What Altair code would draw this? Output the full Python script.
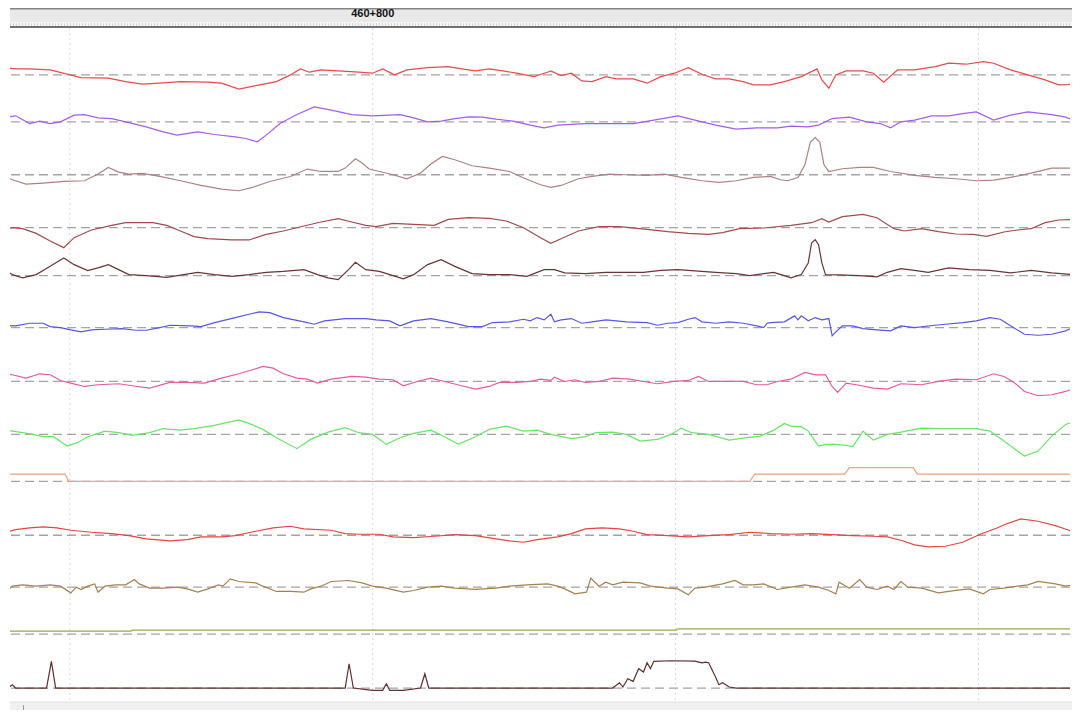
import altair as alt
import pandas as pd

# ---- chainage reference -------------------------------------------------
START_CHAINAGE = 460677.6          # chainage (m) at the left edge of the recording
POSTS = [460700, 460800, 460900, 461000]
LABELLED_POSTS = [460800]

# ---- signal channels: (distance from start in m, value in mm) -----------
ch01 = [(0,7.3),(4.5,6),(9.1,6),(15.9,5),(21.5,0.7),(26.1,-2.7),(35.1,-3.3),(40.8,-6.7),(46.4,-9.3),
        (52.1,-8.3),(58.9,-6.7),(68.0,-7.3),(72.5,-8.3),(78.2,-14.3),(83.8,-10.7),(90.6,-6.7),(95.2,0),
        (98.5,6),(101.5,2.7),(105.3,5),(111.0,4),(117.8,2.7),(122.3,1.7),(125.7,6),(129.6,0),(133.7,5),
        (140.5,7.3),(147.3,8.3),(151.8,6),(156.3,4),(160.9,6),(165.4,4),(169.9,1.7),(175.6,-1.7),
        (180.1,2.7),(181.2,4),(184.6,-0.7),(188.0,1.7),(191.4,-6),(194.8,-6.7),(199.4,-1.7),(202.8,-4),
        (208.4,-4),(213.0,-8.3),(217.5,-1.7),(222.0,1.7),(226.6,7.3),(231.1,0.7),(235.6,-4),(240.1,-4),
        (244.7,-6.7),(248.1,-10),(253.7,-10),(258.3,-6.7),(263.9,-1.7),(269.1,6),(270.7,-5),(273.0,-13.3),
        (275.3,0),(278.7,4),(284.3,4),(287.7,1.7),(291.1,-7.3),(295.7,5),(301.3,5),(308.1,8.3),
        (312.6,11.7),(318.3,10.7),(324.0,13.3),(327.4,11.7),(333.0,5),(338.7,0),(344.4,-5),(348.9,-10),
        (355.2,-9.3)]

ch02 = [(0,4),(4.5,6),(9.1,-1.7),(12.5,0.7),(15.9,-1.7),(19.3,0),(23.8,6.7),(27.2,7.3),(31.7,4),
        (36.2,3.3),(40.8,0),(47.6,-5),(53.2,-10),(57.8,-13.3),(64.6,-10),(70.2,-12.7),(77.0,-15),
        (80.4,-16.7),(84.3,-20),(87.2,-13.3),(91.8,-1.7),(97.4,7.3),(103.1,15),(108.7,11.7),(115.5,7.3),
        (122.3,6),(131.4,7.3),(135.9,4),(140.5,0),(145.0,0.7),(149.5,3.3),(154.1,5),(158.6,4.7),
        (163.1,2.7),(168.8,0.7),(174.4,-3.3),(179.0,-6),(183.5,-3.3),(192.6,-1.7),(199.4,-1.7),
        (208.4,-1.7),(215.2,1.7),(223.2,6),(228.8,1.7),(235.6,-3.3),(242.4,-7.3),(249.2,-6),(256.0,-6),
        (260.5,-4.3),(266.2,-5),(269.6,-3.3),(274.1,3.3),(279.8,4.7),(285.5,0),(290.0,-1.7),(293.4,-6),
        (296.8,0),(301.3,1.7),(307.0,6),(312.6,6),(317.2,8.3),(321.7,10),(327.4,1.7),(333.0,6.7),
        (338.7,10),(346.6,7.3),(351.2,4.7),(355.2,0)]

ch03 = [(0,0),(3.4,-5),(7.9,-9.3),(13.6,-8.3),(20.4,-6.7),(27.2,-6),(31.7,0.7),(35.1,7.3),(38.5,2.7),
        (41.9,0.7),(46.4,1.3),(52.1,-1.7),(58.9,-6),(65.7,-10.7),(72.5,-14.3),(78.2,-16),(82.7,-12.7),
        (88.4,-6.7),(95.2,-1.7),(100.8,5.7),(105.3,3.3),(111.0,3.3),(113.3,6.7),(116.7,16),(118.9,11.7),
        (121.2,5.7),(124.6,3.3),(129.1,0),(133.7,-4),(138.2,1.7),(141.6,10.7),(145.4,18.3),(149.5,15),
        (155.2,9),(160.9,6.7),(167.6,3.3),(172.2,-3.3),(177.8,-10),(181.2,-12.7),(184.6,-10.7),
        (190.3,-4),(194.8,-1.7),(200.5,0.7),(206.2,0),(213.0,-0.7),(218.6,0.7),(224.3,-2.7),(231.1,-6),
        (236.7,-7.7),(242.4,-6),(248.1,-2.7),(253.7,-1.7),(257.1,-5),(259.4,-6),(262.8,-2.7),(265.1,10),
        (266.9,32.7),(268.5,37.3),(270.0,32.7),(271.4,10),(273.0,3.3),(277.5,6),(283.2,7.3),(287.7,7.3),
        (293.4,3.3),(301.3,-0.7),(308.1,-2.7),(314.9,-4),(321.7,-6),(327.4,-5.3),(333.0,-2.7),
        (339.8,1.7),(346.6,6.7),(355.2,6.7)]

ch04 = [(0,-2.3),(3.4,0),(6.8,-1),(11.3,-5.7),(15.9,-13.3),(20.4,-20),(23.8,-10),(29.5,-2.3),(36.2,2.3),
        (40.8,5),(49.8,5),(54.4,2.3),(58.9,-3.3),(63.4,-9),(68.0,-11),(75.9,-12.3),(81.6,-12.3),
        (87.2,-6.7),(92.9,-3.3),(99.7,1.7),(105.3,5.7),(111.0,9),(115.5,5.7),(120.1,2.3),(123.5,1),
        (129.1,4.3),(135.9,3.3),(142.7,2.3),(147.3,8.3),(154.1,10),(160.9,9.3),(166.5,6.7),(172.2,0),
        (177.8,-10),(181.2,-15.7),(184.6,-11),(190.3,-3.3),(197.1,1),(203.9,1),(213.0,-1.7),(219.8,-4),
        (226.6,-5.7),(233.3,-6.7),(237.9,-5),(243.5,-1),(251.5,-0.3),(260.5,2.3),(267.3,5),(270.7,9),
        (273.0,5.7),(277.5,11),(284.3,13.3),(288.9,10),(294.5,-1),(297.9,-3.3),(303.6,-1),(309.2,-4),
        (314.9,-6.3),(320.6,-6.7),(325.1,-8.7),(330.8,-4.3),(335.3,-2.3),(339.8,-1),(344.4,5),
        (348.9,7.7),(355.2,8.3)]

ch05 = [(0,7.7),(3.4,1),(6.8,-2.3),(11.3,1),(15.9,9.3),(20.4,17.7),(23.8,11),(28.3,5),(31.7,7.7),
        (35.1,11),(38.5,6),(41.9,1),(47.6,0),(54.4,-1.7),(60.0,1),(64.6,3.3),(70.2,1),(75.9,-0.7),
        (81.6,1),(87.2,3.3),(92.9,4.3),(99.7,6),(104.2,1),(107.6,-2.3),(111.0,-4),(114.4,6),(116.7,13.3),
        (120.1,6),(124.6,4.3),(129.1,0),(132.5,-3.3),(135.9,1),(140.5,11),(145.0,16),(149.5,9.3),
        (155.2,2),(160.9,1),(167.6,1),(173.3,-0.7),(179.0,6),(182.4,6),(185.8,2.7),(192.6,2),(199.4,3.3),
        (206.2,3.3),(211.8,3.3),(217.5,5.3),(223.2,6),(228.8,4.7),(235.6,3.3),(242.4,2),(246.9,0),
        (251.5,2),(254.8,3.3),(258.3,0),(260.5,-2.3),(263.9,1),(266.2,12.7),(267.3,32.7),(268.5,36),
        (269.6,31),(270.7,12.7),(271.9,1),(276.4,0.7),(283.2,0),(288.9,-1.3),(292.3,3.3),(296.8,7),
        (301.3,5.3),(305.8,3.3),(312.6,7.7),(319.4,6),(326.2,5.3),(333.0,2.7),(339.8,5.3),(346.6,2.7),
        (355.2,0.7)]

ch06 = [(0,2.3),(4.5,1.7),(9.1,4.3),(13.6,4.3),(15.9,1),(19.3,0),(22.7,-2.3),(26.1,-4.3),(29.5,-2.3),
        (34.0,-1.7),(39.6,-1),(44.2,-2.7),(47.6,-2.7),(52.1,0),(55.5,2.3),(62.3,1.7),(65.7,1),(70.2,5),
        (77.0,10),(81.6,13.3),(85.0,15.7),(88.4,15),(92.9,10),(99.7,5.7),(103.1,3.3),(106.5,6.7),
        (113.3,9),(120.1,9),(123.5,7.7),(128.0,6.7),(131.4,1.7),(135.9,6.7),(141.6,9),(147.3,5.7),
        (154.1,1),(158.6,1),(162.0,5),(167.6,5.7),(172.2,8.3),(174.4,6.7),(176.7,10),(179.0,7.7),
        (181.2,13.3),(182.4,5.7),(184.6,7.7),(188.0,9),(191.4,4.3),(194.8,5.7),(199.4,7.7),(206.2,5.7),
        (213.0,5),(216.4,2.3),(219.8,4.3),(223.2,5),(226.6,8.3),(228.8,10),(231.1,5.7),(235.6,4.3),
        (240.1,5.7),(244.7,4.3),(249.2,1.7),(251.5,0),(252.6,4.3),(253.7,5),(258.3,5.7),(261.7,11.7),
        (262.8,7.7),(263.9,11.7),(266.2,6.7),(268.5,10),(270.7,7.7),(273.0,9),(274.1,-8.3),(275.3,-4.3),
        (277.5,1.7),(280.9,1.7),(284.3,-1),(288.9,-2.3),(293.4,-3.3),(296.8,1.7),(301.3,0),(308.1,2.3),
        (311.5,3.3),(317.2,5),(321.7,6.7),(326.2,10),(329.6,8.3),(333.0,1.7),(337.6,-6.7),(342.1,-7.7),
        (346.6,-6.7),(351.2,-3.3),(355.2,2.3)]

ch07 = [(0,7.7),(3.4,6.7),(7.9,3.3),(12.5,7.7),(15.9,6.7),(19.3,1),(22.7,-1.7),(27.2,-5),(31.7,-3.3),
        (38.5,-2.3),(43.0,-4.3),(48.7,-6.7),(55.5,-1),(61.2,-1),(66.8,-1.7),(72.5,3.3),(78.2,7.7),
        (82.7,11.7),(86.1,15),(89.5,13.3),(92.9,7.7),(97.4,3.3),(100.8,2.3),(104.2,-1.7),(108.7,2.3),
        (115.5,5),(120.1,4.3),(124.6,2.3),(129.1,1.7),(132.5,-4.3),(137.1,0),(141.6,3.3),(146.1,0),
        (151.8,-4.3),(156.3,-7.7),(160.9,-5),(164.2,-1),(169.9,-1),(174.4,0),(177.8,2.3),(181.2,1),
        (182.4,4.3),(185.8,0),(189.2,1.7),(192.6,-1),(197.1,0),(201.6,3.3),(207.3,2.3),(211.8,0),
        (216.4,-2.3),(222.0,0),(226.6,1),(230.0,5),(233.3,0),(240.1,0),(244.7,0),(249.2,-3.3),
        (252.6,-3.3),(256.0,0),(260.5,2.3),(265.1,9),(268.5,6.7),(271.9,6.7),(274.1,-5),(275.9,-11),
        (278.7,-1.7),(282.1,-3.3),(287.7,-6.7),(292.3,-7.7),(296.8,-2.3),(303.6,-3.3),(309.2,0),
        (314.9,2.3),(321.7,1.7),(327.4,7.7),(330.8,5),(334.2,-1),(337.6,-10),(342.1,-14.3),(346.6,-13.3),
        (351.2,-10),(355.2,-5.7)]

ch08 = [(0,5),(3.4,3.3),(6.8,1.7),(10.2,0),(13.6,-2.3),(17.0,-2.3),(21.5,-11.7),(24.9,-8.3),(28.3,-2.3),
        (34.0,3.3),(38.5,1.7),(43.0,-1),(48.7,1.7),(53.2,5.7),(58.9,4.3),(63.4,5.7),(70.2,9),(74.8,12.3),
        (78.2,14.3),(81.6,11),(86.1,5),(90.6,-3.3),(97.4,-14.3),(101.9,-5),(107.6,2.3),(113.3,6.7),
        (117.8,1.7),(122.3,0),(126.9,-10),(131.4,-3.3),(135.9,1),(141.6,4.3),(146.1,-2.3),(150.7,-10),
        (156.3,-2.3),(160.9,5),(166.5,8.3),(172.2,3.3),(176.7,4.3),(181.2,0),(188.0,-4.3),(192.6,-2.3),
        (196.0,1.7),(201.6,2.3),(206.2,0),(210.7,-6.7),(216.4,-5),(220.9,0),(224.3,6.3),(227.7,1.7),
        (233.3,0),(240.1,-5.7),(245.8,-3.3),(250.3,-1.7),(254.9,4.3),(258.3,11),(260.5,8.3),(263.9,7.7),
        (266.2,3.3),(269.6,-11.7),(271.9,-10),(275.3,-10),(278.7,-11),(280.9,-12.3),(284.3,3.3),
        (287.7,-5.7),(292.3,0),(296.8,2.3),(303.6,6.3),(310.4,5.7),(317.2,5.7),(321.7,5.7),(326.2,3.3),
        (330.8,-6.7),(337.6,-21.7),(342.1,-16.7),(346.6,-1.7),(351.2,10),(355.2,14.3)]

ch09 = [(0,14),(1.1,7.3),(20.8,7.3),(22.0,0),(246.9,0),(248.5,7.3),(278.2,7.3),(279.8,13.7),
        (300.9,13.7),(302.2,7.3),(353.0,7.3),(354.6,13.3),(355.2,13.3)]

ch10 = [(0,1.7),(4.5,5.7),(9.1,7.3),(13.6,8.3),(18.1,7.3),(22.7,5),(29.5,3),(36.2,1.7),(41.9,-0.3),
        (47.6,-3.7),(55.5,-5.7),(61.2,-4.3),(65.7,-1.7),(72.5,-1.7),(77.0,-0.3),(83.8,4),(89.5,7.3),
        (95.2,9),(99.7,6.3),(108.7,5),(113.3,1.7),(117.8,1),(124.6,1),(129.1,-1.7),(135.9,-2.3),
        (142.7,-1),(149.5,0.7),(156.3,-0.3),(163.1,-3.7),(167.6,-5.7),(172.2,-7),(176.7,-4.3),
        (183.5,-1.7),(188.0,1.7),(192.6,6.3),(198.2,7.3),(203.9,6.3),(208.4,4),(213.0,0.7),(219.8,-0.3),
        (226.6,-1.7),(233.3,-0.3),(240.1,0.7),(246.9,3),(253.7,1.7),(260.5,1),(267.3,1.7),(274.1,0.7),
        (280.9,-0.3),(287.7,-1),(292.3,-1.7),(296.8,-5),(301.3,-9.7),(305.8,-11.7),(311.5,-11),
        (317.2,-7),(322.8,0.7),(328.5,7.3),(331.9,11.7),(336.4,16.3),(342.1,14),(347.8,9.7),(352.3,5),
        (355.2,1.7)]

ch11 = [(0,-2.3),(1.1,-5),(3.4,1),(6.8,2.3),(11.3,1),(15.9,2.3),(19.3,1),(22.7,-5.7),(24.5,0),
        (26.1,-2.3),(28.3,1),(30.6,3.3),(31.7,-5),(34.0,1),(37.4,2.3),(40.8,2.3),(43.7,7.7),(45.3,3.3),
        (48.7,-1),(53.2,-1),(57.8,0),(61.2,-1.7),(64.6,-5),(68.0,-1.7),(71.4,2.3),(72.9,1),(75.4,8.3),
        (78.2,5.7),(83.8,4.3),(86.1,1),(90.6,-4.3),(95.2,-4.3),(99.7,-5),(101.9,-1.7),(105.3,1),
        (108.7,5.7),(114.4,6.7),(118.9,4.3),(122.3,1),(126.9,-1),(132.5,-5),(135.9,-3.3),(140.5,0),
        (145.0,1),(149.5,-1),(156.3,-2.3),(163.1,-1),(167.6,1),(173.3,2.3),(180.1,3.3),(183.5,1),
        (185.8,-1.7),(189.2,-6.7),(193.0,-5),(194.4,9),(197.1,1),(199.4,5),(201.6,2.3),(205.0,5),
        (210.7,4.3),(214.1,1),(219.8,-1),(223.2,-1.7),(226.6,-7.7),(228.8,-1),(232.2,0),(237.9,3.3),
        (242.0,6.7),(244.7,2.3),(248.1,2.3),(251.5,3.3),(256.0,-2.3),(260.5,0),(265.1,2.3),(269.6,0),
        (273.0,-3.3),(275.3,-6.7),(276.4,5),(279.8,-1),(283.2,7.7),(285.5,0),(288.9,-2.3),(292.3,1),
        (294.5,-2.3),(296.8,5.7),(299.1,0),(303.6,-1),(309.2,-5.7),(314.9,-3.3),(319.4,-1.7),
        (324.0,-6.7),(326.2,-2.3),(330.8,-1),(335.3,1),(338.7,2.3),(342.1,5.7),(347.8,3.3),(351.2,1),
        (355.2,3.3)]

ch12 = [(0,3),(42.6,3),(43.0,4),(222.5,4),(223.2,5.3),(355.2,5.3)]

ch13 = [(0,0),(2.3,0.7),(3.4,3.3),(4.5,0),(14.7,0),(16.3,26.7),(17.7,0),(113.3,0),(114.6,24.3),
        (116.0,0),(122.3,-2.3),(125.7,-2.3),(126.9,4.3),(128.0,-2.3),(132.5,-2.3),(138.2,0),
        (139.6,14.3),(140.9,0),(201.6,0),(203.9,5.3),(205.0,1),(206.6,9.3),(208.4,6.7),(210.2,19.3),
        (211.8,16),(213.0,25.3),(214.1,19.3),(215.2,26.7),(220.9,27.3),(228.8,27),(231.1,25.3),
        (232.2,26),(233.3,25.3),(235.6,11),(236.7,3.3),(237.9,5.3),(240.1,1),(242.4,0),(355.2,0)]

channels = [ch01, ch02, ch03, ch04, ch05, ch06, ch07, ch08, ch09, ch10, ch11, ch12, ch13]
names = [f"ch{i+1:02d}" for i in range(len(channels))]

# ---- layout / style --------------------------------------------------------
ROW_BASE = [75, 122, 175, 228, 276, 328, 382, 435, 482, 536, 588, 635, 689]   # baseline row of each track
COLORS = ["#e84a4a", "#a45cec", "#b08080", "#a04c4c", "#6a3434", "#5656e2", "#e25aa4",
          "#68e468", "#f4a078", "#e44444", "#a68050", "#9aa644", "#5e3030"]

rows = []
for name, data, base in zip(names, channels, ROW_BASE):
    for d, v in data:
        rows.append({"track": name, "chainage": START_CHAINAGE + d, "value": v, "row": base - v})
df = pd.DataFrame(rows)
df_base = pd.DataFrame({"track": names, "row": ROW_BASE})
df_posts = pd.DataFrame({"chainage": POSTS})
df_labels = pd.DataFrame({"chainage": LABELLED_POSTS,
                          "label": [f"{p // 1000}+{p % 1000:03d}" for p in LABELLED_POSTS]})

W, H = 1064, 702
xscale = alt.Scale(domain=[START_CHAINAGE + 8 / 3.04, START_CHAINAGE + 1072 / 3.04], nice=False, zero=False)
yscale = alt.Scale(domain=[8, 710], reverse=True, nice=False, zero=False)

one = pd.DataFrame({"a": [0]})
header = alt.Chart(one).mark_rect(color="#e9e9e9").encode(
    x=alt.value(0), x2=alt.value(W), y=alt.value(0), y2=alt.value(14))
header_top = alt.Chart(one).mark_rule(color="#858585", strokeWidth=1.5).encode(
    x=alt.value(0), x2=alt.value(W), y=alt.value(0.75))
ruler_bg = alt.Chart(one).mark_rect(color="#f6f6f6").encode(
    x=alt.value(0), x2=alt.value(W), y=alt.value(14), y2=alt.value(18))
ruler = alt.Chart(one).mark_rule(color="#cfcfcf", strokeWidth=2.5, strokeDash=[1, 2]).encode(
    x=alt.value(0), x2=alt.value(W), y=alt.value(16.5))
ruler_line = alt.Chart(one).mark_rule(color="#707070", strokeWidth=2).encode(
    x=alt.value(0), x2=alt.value(W), y=alt.value(19))
footer = alt.Chart(one).mark_rect(color="#f0f0f0").encode(
    x=alt.value(0), x2=alt.value(W), y=alt.value(694), y2=alt.value(H))
footer_line = alt.Chart(one).mark_rule(color="#e2e2e2", strokeWidth=1).encode(
    x=alt.value(0), x2=alt.value(W), y=alt.value(694))
footer_tab = alt.Chart(one).mark_rule(color="#9a9a9a", strokeWidth=1).encode(
    x=alt.value(13.5), y=alt.value(697), y2=alt.value(H))

grid = alt.Chart(df_posts).mark_rule(color="#d8d8d8", strokeWidth=1, strokeDash=[2, 3]).encode(
    x=alt.X("chainage:Q", scale=xscale, axis=None), y=alt.value(20), y2=alt.value(693))

baselines = alt.Chart(df_base).mark_rule(color="#a4a4a4", strokeWidth=1.3, strokeDash=[9, 5]).encode(
    y=alt.Y("row:Q", scale=yscale, axis=None))

signals = alt.Chart(df).mark_line(strokeWidth=1.2, clip=True).encode(
    x=alt.X("chainage:Q", scale=xscale, axis=None),
    y=alt.Y("row:Q", scale=yscale, axis=None),
    color=alt.Color("track:N", scale=alt.Scale(domain=names, range=COLORS), legend=None),
    order=alt.Order("chainage:Q"))

labels = alt.Chart(df_labels).mark_text(font="Liberation Sans", fontWeight="bold", fontSize=11,
                                         color="#111111", baseline="middle").encode(
    x=alt.X("chainage:Q", scale=xscale, axis=None), y=alt.value(6), text="label:N")

chart = alt.layer(header, ruler_bg, ruler, ruler_line, header_top, footer, footer_line, footer_tab,
                  grid, baselines, signals, labels).properties(
    width=W, height=H, padding=0,
    autosize=alt.AutoSizeParams(type="fit", contains="padding"),
).configure_view(stroke=None)

chart.save("out.html", embed_options={"renderer": "svg", "actions": False})
